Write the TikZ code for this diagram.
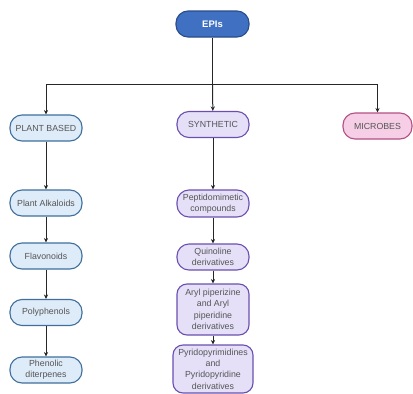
\documentclass[tikz,border=0pt]{standalone}
\usepackage{fontspec}
\setmainfont{Liberation Sans}
\usetikzlibrary{arrows.meta}

\definecolor{epifill}{HTML}{3F70C2}
\definecolor{epiline}{HTML}{2A4C88}
\definecolor{plantfill}{HTML}{DEEBF8}
\definecolor{plantline}{HTML}{3F6F9C}
\definecolor{synfill}{HTML}{E5E0F8}
\definecolor{synline}{HTML}{6B4FAF}
\definecolor{micfill}{HTML}{F6CFE6}
\definecolor{micline}{HTML}{B24F85}
\definecolor{txtgray}{HTML}{555555}

\tikzset{
  pill/.style={draw, line width=1.1pt, rounded corners=12pt, minimum width=72pt,
    minimum height=26pt, align=center, text=txtgray,
    font=\fontsize{8.8}{11.4}\selectfont, inner sep=0.5pt},
  plant/.style={pill, fill=plantfill, draw=plantline},
  syn/.style={pill, fill=synfill, draw=synline},
  mic/.style={pill, fill=micfill, draw=micline},
  link/.style={line width=1pt, draw=black!85},
  arr/.style={link, -{Stealth[length=4.5pt,width=4.2pt]}}
}

\begin{document}
\begin{tikzpicture}[x=1pt,y=1pt]
   \useasboundingbox (0,0) rectangle (413,-394);

   \node[pill, fill=epifill, draw=epiline, text=white, font=\fontsize{9.5}{11}\bfseries,
     minimum width=73pt, minimum height=26pt] (epi) at (212.5,-24) {EPIs};

   \node[plant] (plant) at (46,-128) {PLANT BASED};
   \node[syn] (synth) at (213,-124.5) {SYNTHETIC};
   \node[mic, minimum width=69pt] (micro) at (377.5,-126) {MICROBES};

   \node[plant] (alk) at (46,-203) {Plant Alkaloids};
   \node[plant] (flav) at (46,-256) {Flavonoids};
   \node[plant] (poly) at (46,-312.5) {Polyphenols};
   \node[plant] (diter) at (46,-370) {Phenolic\\diterpenes};

   \node[syn, minimum height=27pt] (pept) at (213,-203.5) {Peptidomimetic\\compounds};
   \node[syn] (quin) at (213,-257) {Quinoline\\derivatives};
   \node[syn, minimum height=51pt, rounded corners=10pt] (aryl) at (213,-309.5)
     {Aryl piperizine\\and Aryl\\piperidine\\derivatives};
   \node[syn, minimum width=80pt, minimum height=48pt, rounded corners=10pt] (pyr) at (213,-369)
     {Pyridopyrimidines\\and\\Pyridopyridine\\derivatives};

   \coordinate (split) at (212.5,-84);
   \coordinate (lt) at (46,-84);
   \coordinate (rt) at (377.5,-84);

   \draw[link] (epi) -- (split);
   \draw[link] (lt) -- (rt);
   \draw[arr] (lt) -- (plant);
   \draw[arr] (split) -- (synth);
   \draw[arr] (rt) -- (micro);

   \foreach \a/\b in {plant/alk, alk/flav, flav/poly, poly/diter,
                      synth/pept, pept/quin, quin/aryl, aryl/pyr}
   \draw[arr] (\a) -- (\b);

\end{tikzpicture}
\end{document}
